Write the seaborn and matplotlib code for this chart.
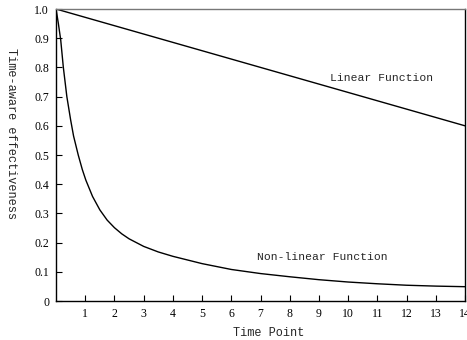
import matplotlib
matplotlib.use("Agg")
import matplotlib.pyplot as plt
import seaborn as sns
import pandas as pd

# Data
linear_x = [0, 14]
linear_y = [1.0, 0.6]

nonlinear_x = [0, 0.08, 0.16, 0.25, 0.37, 0.5, 0.6, 0.76, 0.9, 1.02, 1.25, 1.5, 1.75,
               2.0, 2.25, 2.5, 3, 3.5, 4, 5, 6, 7, 8, 9, 10, 11, 12, 13, 14]
nonlinear_y = [1.0, 0.95, 0.894, 0.80, 0.70, 0.62, 0.565, 0.50, 0.45, 0.414, 0.358,
               0.312, 0.277, 0.251, 0.23, 0.213, 0.187, 0.168, 0.153, 0.128, 0.108,
               0.094, 0.083, 0.073, 0.065, 0.059, 0.054, 0.051, 0.049]

x_ticks = list(range(1, 15))
y_ticks = [0, 0.1, 0.2, 0.3, 0.4, 0.5, 0.6, 0.7, 0.8, 0.9, 1.0]
y_tick_labels = ["0", "0.1", "0.2", "0.3", "0.4", "0.5", "0.6", "0.7", "0.8", "0.9", "1.0"]

sns.set_style("ticks")
plt.rcParams['font.family'] = ['Liberation Serif', 'DejaVu Serif']
mono = ["Liberation Mono", "DejaVu Sans Mono"]

fig = plt.figure(figsize=(4.67, 3.40), dpi=100)
ax = fig.add_axes([0.12, 0.1147, 0.8757, 0.8588])

df_lin = pd.DataFrame({"x": linear_x, "y": linear_y})
df_non = pd.DataFrame({"x": nonlinear_x, "y": nonlinear_y})
sns.lineplot(data=df_lin, x="x", y="y", ax=ax, color="black", linewidth=1.0)
sns.lineplot(data=df_non, x="x", y="y", ax=ax, color="black", linewidth=1.0)

ax.set_xlim(0, 14)
ax.set_ylim(0, 1.0)
ax.set_xticks(x_ticks)
ax.set_xticklabels([str(t) for t in x_ticks])
ax.set_yticks(y_ticks)
ax.set_yticklabels(y_tick_labels)
ax.tick_params(direction="in", length=4, width=0.8, labelsize=8.5, colors="black", pad=5)

for s in ["left", "bottom", "right"]:
    ax.spines[s].set_color("black")
    ax.spines[s].set_linewidth(1.0)
ax.spines["top"].set_color("#777777")
ax.spines["top"].set_linewidth(1.0)
ax.spines["right"].set_visible(True)
ax.spines["top"].set_visible(True)

ax.set_xlabel("Time Point", fontsize=8.6, family=mono)
ax.xaxis.set_label_coords(0.52, -0.09)
ax.set_ylabel("Time-aware effectiveness", fontsize=8.6, family=mono, rotation=270, va="center")
ax.yaxis.set_label_coords(-0.111, 0.572)

ax.text(11.16, 0.764, "Linear Function", fontsize=8.2, ha="center", va="center", family=mono)
ax.text(9.1, 0.15, "Non-linear Function", fontsize=8.2, ha="center", va="center", family=mono)

fig.savefig("out.png", dpi=100)
